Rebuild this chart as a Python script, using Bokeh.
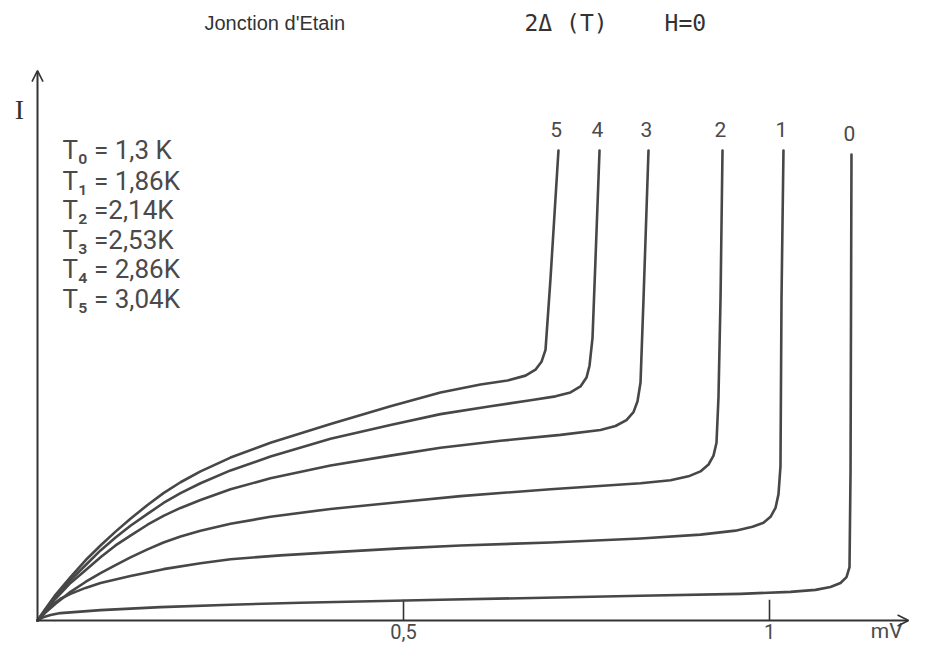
from bokeh.plotting import figure
from bokeh.models import Range1d, Arrow, OpenHead
from bokeh.core.properties import value
from bokeh.embed import file_html
from bokeh.resources import INLINE

# ---- data (V in mV, I in arbitrary units) ----
V0 = [0, 0.0068, 0.0178, 0.0314, 0.0587, 0.0861, 0.1680, 0.2637, 0.3593, 0.5505, 0.8238, 0.9604, 1.0287, 1.0628, 1.0833, 1.0970, 1.1052, 1.1093, 1.1107, 1.1120]
I0 = [0, 0.06, 0.11, 0.15, 0.18, 0.21, 0.27, 0.32, 0.36, 0.42, 0.50, 0.54, 0.58, 0.62, 0.68, 0.76, 0.88, 1.08, 3.0, 9.44]

V1 = [0, 0.0109, 0.0205, 0.0314, 0.0451, 0.0656, 0.0861, 0.1270, 0.1721, 0.2227, 0.2637, 0.3320, 0.4003, 0.4959, 0.5779, 0.7008, 0.8238, 0.9057, 0.9536, 0.9768, 0.9918, 1.0014, 1.0082, 1.0123, 1.0150, 1.0164, 1.0191]
I1 = [0, 0.18, 0.32, 0.44, 0.54, 0.66, 0.76, 0.90, 1.04, 1.16, 1.24, 1.32, 1.38, 1.46, 1.52, 1.58, 1.66, 1.74, 1.82, 1.90, 1.98, 2.10, 2.28, 2.56, 3.12, 6.52, 9.52]

V2 = [0, 0.0109, 0.0246, 0.0451, 0.0656, 0.0861, 0.1066, 0.1270, 0.1503, 0.1721, 0.1954, 0.2227, 0.2637, 0.3183, 0.4003, 0.4959, 0.5779, 0.7008, 0.8238, 0.8648, 0.8893, 0.9057, 0.9167, 0.9235, 0.9276, 0.9303, 0.9331, 0.9358]
I2 = [0, 0.16, 0.34, 0.58, 0.78, 0.96, 1.12, 1.28, 1.44, 1.58, 1.70, 1.82, 1.96, 2.10, 2.26, 2.40, 2.52, 2.66, 2.78, 2.84, 2.92, 3.02, 3.16, 3.34, 3.60, 4.52, 6.52, 9.52]

V3 = [0, 0.0109, 0.0246, 0.0451, 0.0656, 0.0861, 0.1066, 0.1270, 0.1503, 0.1721, 0.1954, 0.2227, 0.2637, 0.3183, 0.4003, 0.4822, 0.5505, 0.6325, 0.7145, 0.7691, 0.7896, 0.8046, 0.8142, 0.8197, 0.8238, 0.8279, 0.8347]
I3 = [0, 0.20, 0.44, 0.76, 1.02, 1.28, 1.52, 1.72, 1.94, 2.12, 2.28, 2.44, 2.66, 2.88, 3.14, 3.34, 3.50, 3.64, 3.76, 3.86, 3.94, 4.06, 4.22, 4.44, 4.82, 6.52, 9.52]

V4 = [0, 0.0109, 0.0246, 0.0451, 0.0656, 0.0861, 0.1066, 0.1270, 0.1503, 0.1721, 0.1954, 0.2227, 0.2637, 0.3183, 0.4003, 0.4822, 0.5505, 0.6189, 0.6735, 0.7077, 0.7281, 0.7418, 0.7500, 0.7541, 0.7582, 0.7623, 0.7678]
I4 = [0, 0.22, 0.48, 0.82, 1.12, 1.42, 1.68, 1.92, 2.16, 2.38, 2.58, 2.78, 3.04, 3.32, 3.68, 3.96, 4.18, 4.34, 4.46, 4.54, 4.62, 4.74, 4.92, 5.16, 5.72, 7.32, 9.52]

V5 = [0, 0.0109, 0.0246, 0.0451, 0.0656, 0.0861, 0.1066, 0.1270, 0.1503, 0.1721, 0.1954, 0.2227, 0.2637, 0.3183, 0.4003, 0.4822, 0.5505, 0.6052, 0.6421, 0.6667, 0.6803, 0.6885, 0.6940, 0.7008, 0.7117]
I5 = [0, 0.24, 0.52, 0.88, 1.22, 1.52, 1.80, 2.06, 2.34, 2.58, 2.80, 3.02, 3.30, 3.60, 3.98, 4.34, 4.62, 4.78, 4.86, 4.96, 5.08, 5.24, 5.48, 6.92, 9.52]

CURVE_LABELS = ["0", "1", "2", "3", "4", "5"]
TEMPERATURES = ["T\u2080 = 1,3  K", "T\u2081 = 1,86K", "T\u2082 =2,14K", "T\u2083 =2,53K", "T\u2084 = 2,86K", "T\u2085 = 3,04K"]
X_TICKS = [0.5, 1.0]
X_TICK_LABELS = ["0,5", "1"]
TITLE_LEFT = "Jonction d'Etain"
TITLE_RIGHT = ["2\u0394 (T)", "H=0"]
X_UNIT = "mV"
Y_LABEL = "I"

curves_V = [V0, V1, V2, V3, V4, V5]
curves_I = [I0, I1, I2, I3, I4, I5]

# ---- figure: the frame covers the whole canvas ----
W, H = 910, 643
PX_PER_MV = 732.0
PX_PER_I = 49.37
x0 = -37 / PX_PER_MV
y0 = -23 / PX_PER_I
p = figure(width=W, height=H, output_backend="svg", toolbar_location=None,
           x_range=Range1d(x0, x0 + W / PX_PER_MV),
           y_range=Range1d(y0, y0 + H / PX_PER_I),
           x_axis_type=None, y_axis_type=None, min_border=0, title=None)
p.grid.visible = False
p.outline_line_color = None
p.background_fill_color = "white"
p.border_fill_color = "white"

AX_COL = "#333333"
CURVE_COL = "#474747"
TXT_COL = "#4a4a4a"

# axes with open arrow heads
p.add_layout(Arrow(end=OpenHead(size=11, line_width=1.6, line_color=AX_COL),
                   x_start=0, y_start=0, x_end=1.19, y_end=0,
                   line_width=2, line_color=AX_COL))
p.add_layout(Arrow(end=OpenHead(size=11, line_width=1.6, line_color=AX_COL),
                   x_start=0, y_start=0, x_end=0, y_end=11.14,
                   line_width=2, line_color=AX_COL))

# inward ticks and their labels
p.segment(x0=X_TICKS, y0=[0] * len(X_TICKS), x1=X_TICKS, y1=[0.42] * len(X_TICKS),
          line_width=1.6, line_color=AX_COL)
p.text(x=X_TICKS, y=[-0.22] * len(X_TICKS), text=X_TICK_LABELS,
       text_font=value("Roboto"), text_font_size="20px", text_color=TXT_COL,
       text_align="center", text_baseline="middle")
p.text(x=[1.160], y=[-0.22], text=[X_UNIT], text_font=value("Roboto"),
       text_font_size="21px", text_color=TXT_COL, text_align="center",
       text_baseline="middle")
p.text(x=[-0.0246], y=[10.35], text=[Y_LABEL], text_font=value("Liberation Serif"),
       text_font_size="28px", text_color="#333333", text_align="center",
       text_baseline="middle")

# curves
for V, I in zip(curves_V, curves_I):
    p.line(V, I, line_width=2.6, line_color=CURVE_COL, line_join="round", line_cap="round")

# curve numbers above each vertical branch
lab_x = [V[-1] - 0.003 for V in curves_V]
lab_y = [I[-1] + 0.42 for I in curves_I]
p.text(x=lab_x, y=lab_y, text=CURVE_LABELS, text_font=value("Roboto"),
       text_font_size="21px", text_color=TXT_COL, text_align="center",
       text_baseline="middle")

# temperature list
T_Y = [9.520, 8.912, 8.305, 7.697, 7.110, 6.522]
p.text(x=[0.0342] * len(TEMPERATURES), y=T_Y, text=TEMPERATURES,
       text_font=value("Roboto"), text_font_size="26px", text_color=TXT_COL,
       text_align="left", text_baseline="middle")

# title
p.text(x=[0.2281], y=[12.112], text=[TITLE_LEFT],
       text_font=value("Liberation Sans"), text_font_size="20px",
       text_color="#333333", text_align="left", text_baseline="middle")
p.text(x=[0.6653, 0.8566], y=[12.112, 12.112], text=TITLE_RIGHT,
       text_font=value("DejaVu Sans Mono"), text_font_size="23px",
       text_color="#333333", text_align="left", text_baseline="middle")

open("out.html", "w").write(file_html(p, INLINE))
